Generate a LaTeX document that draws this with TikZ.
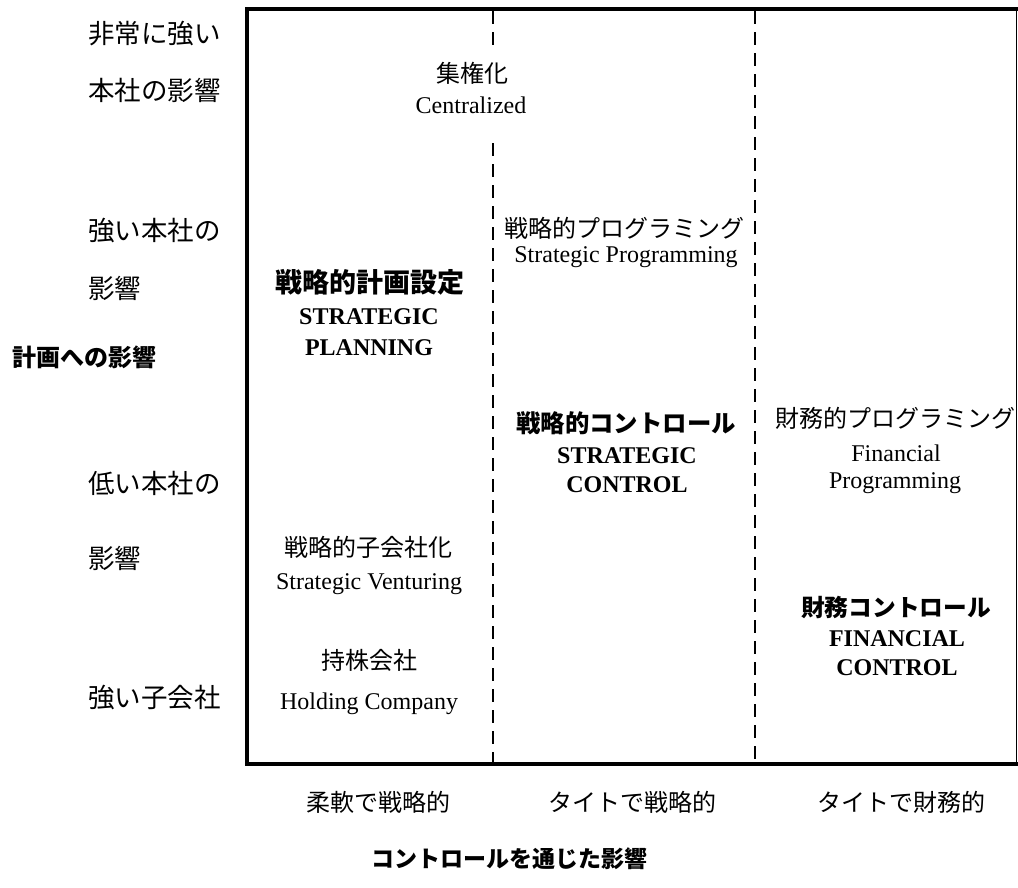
\documentclass[tikz,border=0pt]{standalone}
\usepackage{fontspec}
\setmainfont{Liberation Serif}
\newfontfamily\jpfont{Noto Sans CJK JP}
\tikzset{
  jpr/.style={anchor=base, inner sep=0pt, font=\jpfont\fontsize{#1}{#1}\selectfont},
  jpr/.default=24,
  jpbold/.style={anchor=base, inner sep=0pt, font=\jpfont\bfseries\fontsize{#1}{#1}\selectfont},
  jpbold/.default=24,
  enr/.style={anchor=base, inner sep=0pt, font=\fontsize{24}{24}\selectfont},
  enbold/.style={anchor=base, inner sep=0pt, font=\bfseries\fontsize{24}{24}\selectfont},
  sidelab/.style={anchor=base west, inner sep=0pt, font=\jpfont\fontsize{26.5}{26.5}\selectfont},
  frameline/.style={line width=4pt},
  divider/.style={line width=2pt, dash pattern=on 13pt off 8pt},
}
\begin{document}
\begin{tikzpicture}[x=1pt,y=-1pt]
\useasboundingbox (0,0) rectangle (1018,887);
% frame corners
\coordinate (tl) at (247,9);
\coordinate (tr) at (1018,9);
\coordinate (bl) at (247,764);
\coordinate (br) at (1018,764);
\coordinate (rt) at (1016.3,9);
\coordinate (rb) at (1016.3,764);
\draw[frameline] (tr) -- (tl) -- (bl) -- (br);
\draw[line width=1.5pt] (rt) -- (rb);
% dividers
\coordinate (d1t) at (493,11);
\coordinate (d1a) at (493,45);
\coordinate (d1b) at (493,143);
\coordinate (d1e) at (493,762);
\coordinate (d2t) at (755,11);
\coordinate (d2e) at (755,762);
\draw[divider] (d1t) -- (d1a);
\draw[divider] (d1b) -- (d1e);
\draw[divider] (d2t) -- (d2e);

% left labels
\node[sidelab] (l1) at (88,43) {非常に強い};
\node[sidelab] (l2) at (88,100) {本社の影響};
\node[sidelab] (l3) at (88,240) {強い本社の};
\node[sidelab] (l4) at (88,298) {影響};
\node[jpbold=24, anchor=base west] (yaxis) at (12,366) {計画への影響};
\node[sidelab] (l5) at (88,493) {低い本社の};
\node[sidelab] (l6) at (88,568) {影響};
\node[sidelab] (l7) at (88,707) {強い子会社};

% inside
\node[jpr] (cen1) at (472,82) {集権化};
\node[enr] (cen2) at (471,113) {Centralized};

\node[jpr] (sp1) at (624,237) {戦略的プログラミング};
\node[enr] (sp2) at (626,262) {Strategic Programming};

\node[jpbold=27] (spl1) at (370,292) {戦略的計画設定};
\node[enbold] (spl2) at (369,324) {STRATEGIC};
\node[enbold] (spl3) at (369,355) {PLANNING};

\node[jpbold=24.4] (sc1) at (626,432) {戦略的コントロール};
\node[enbold] (sc2) at (627,463) {STRATEGIC};
\node[enbold] (sc3) at (627,492) {CONTROL};

\node[jpr] (fp1) at (895,427) {財務的プログラミング};
\node[enr] (fp2) at (896,461) {Financial};
\node[enr] (fp3) at (895,488) {Programming};

\node[jpbold=23.7] (fc1) at (896,616) {財務コントロール};
\node[enbold] (fc2) at (897,646) {FINANCIAL};
\node[enbold] (fc3) at (897,675) {CONTROL};

\node[jpr] (sv1) at (368,556) {戦略的子会社化};
\node[enr] (sv2) at (369,589) {Strategic Venturing};

\node[jpr] (hc1) at (369,669) {持株会社};
\node[enr] (hc2) at (369,709) {Holding Company};

% bottom labels
\node[jpr] (b1) at (378,811) {柔軟で戦略的};
\node[jpr] (b2) at (632,811) {タイトで戦略的};
\node[jpr] (b3) at (901,811) {タイトで財務的};
\node[jpbold=23] (xaxis) at (509,867) {コントロールを通じた影響};
\end{tikzpicture}
\end{document}
